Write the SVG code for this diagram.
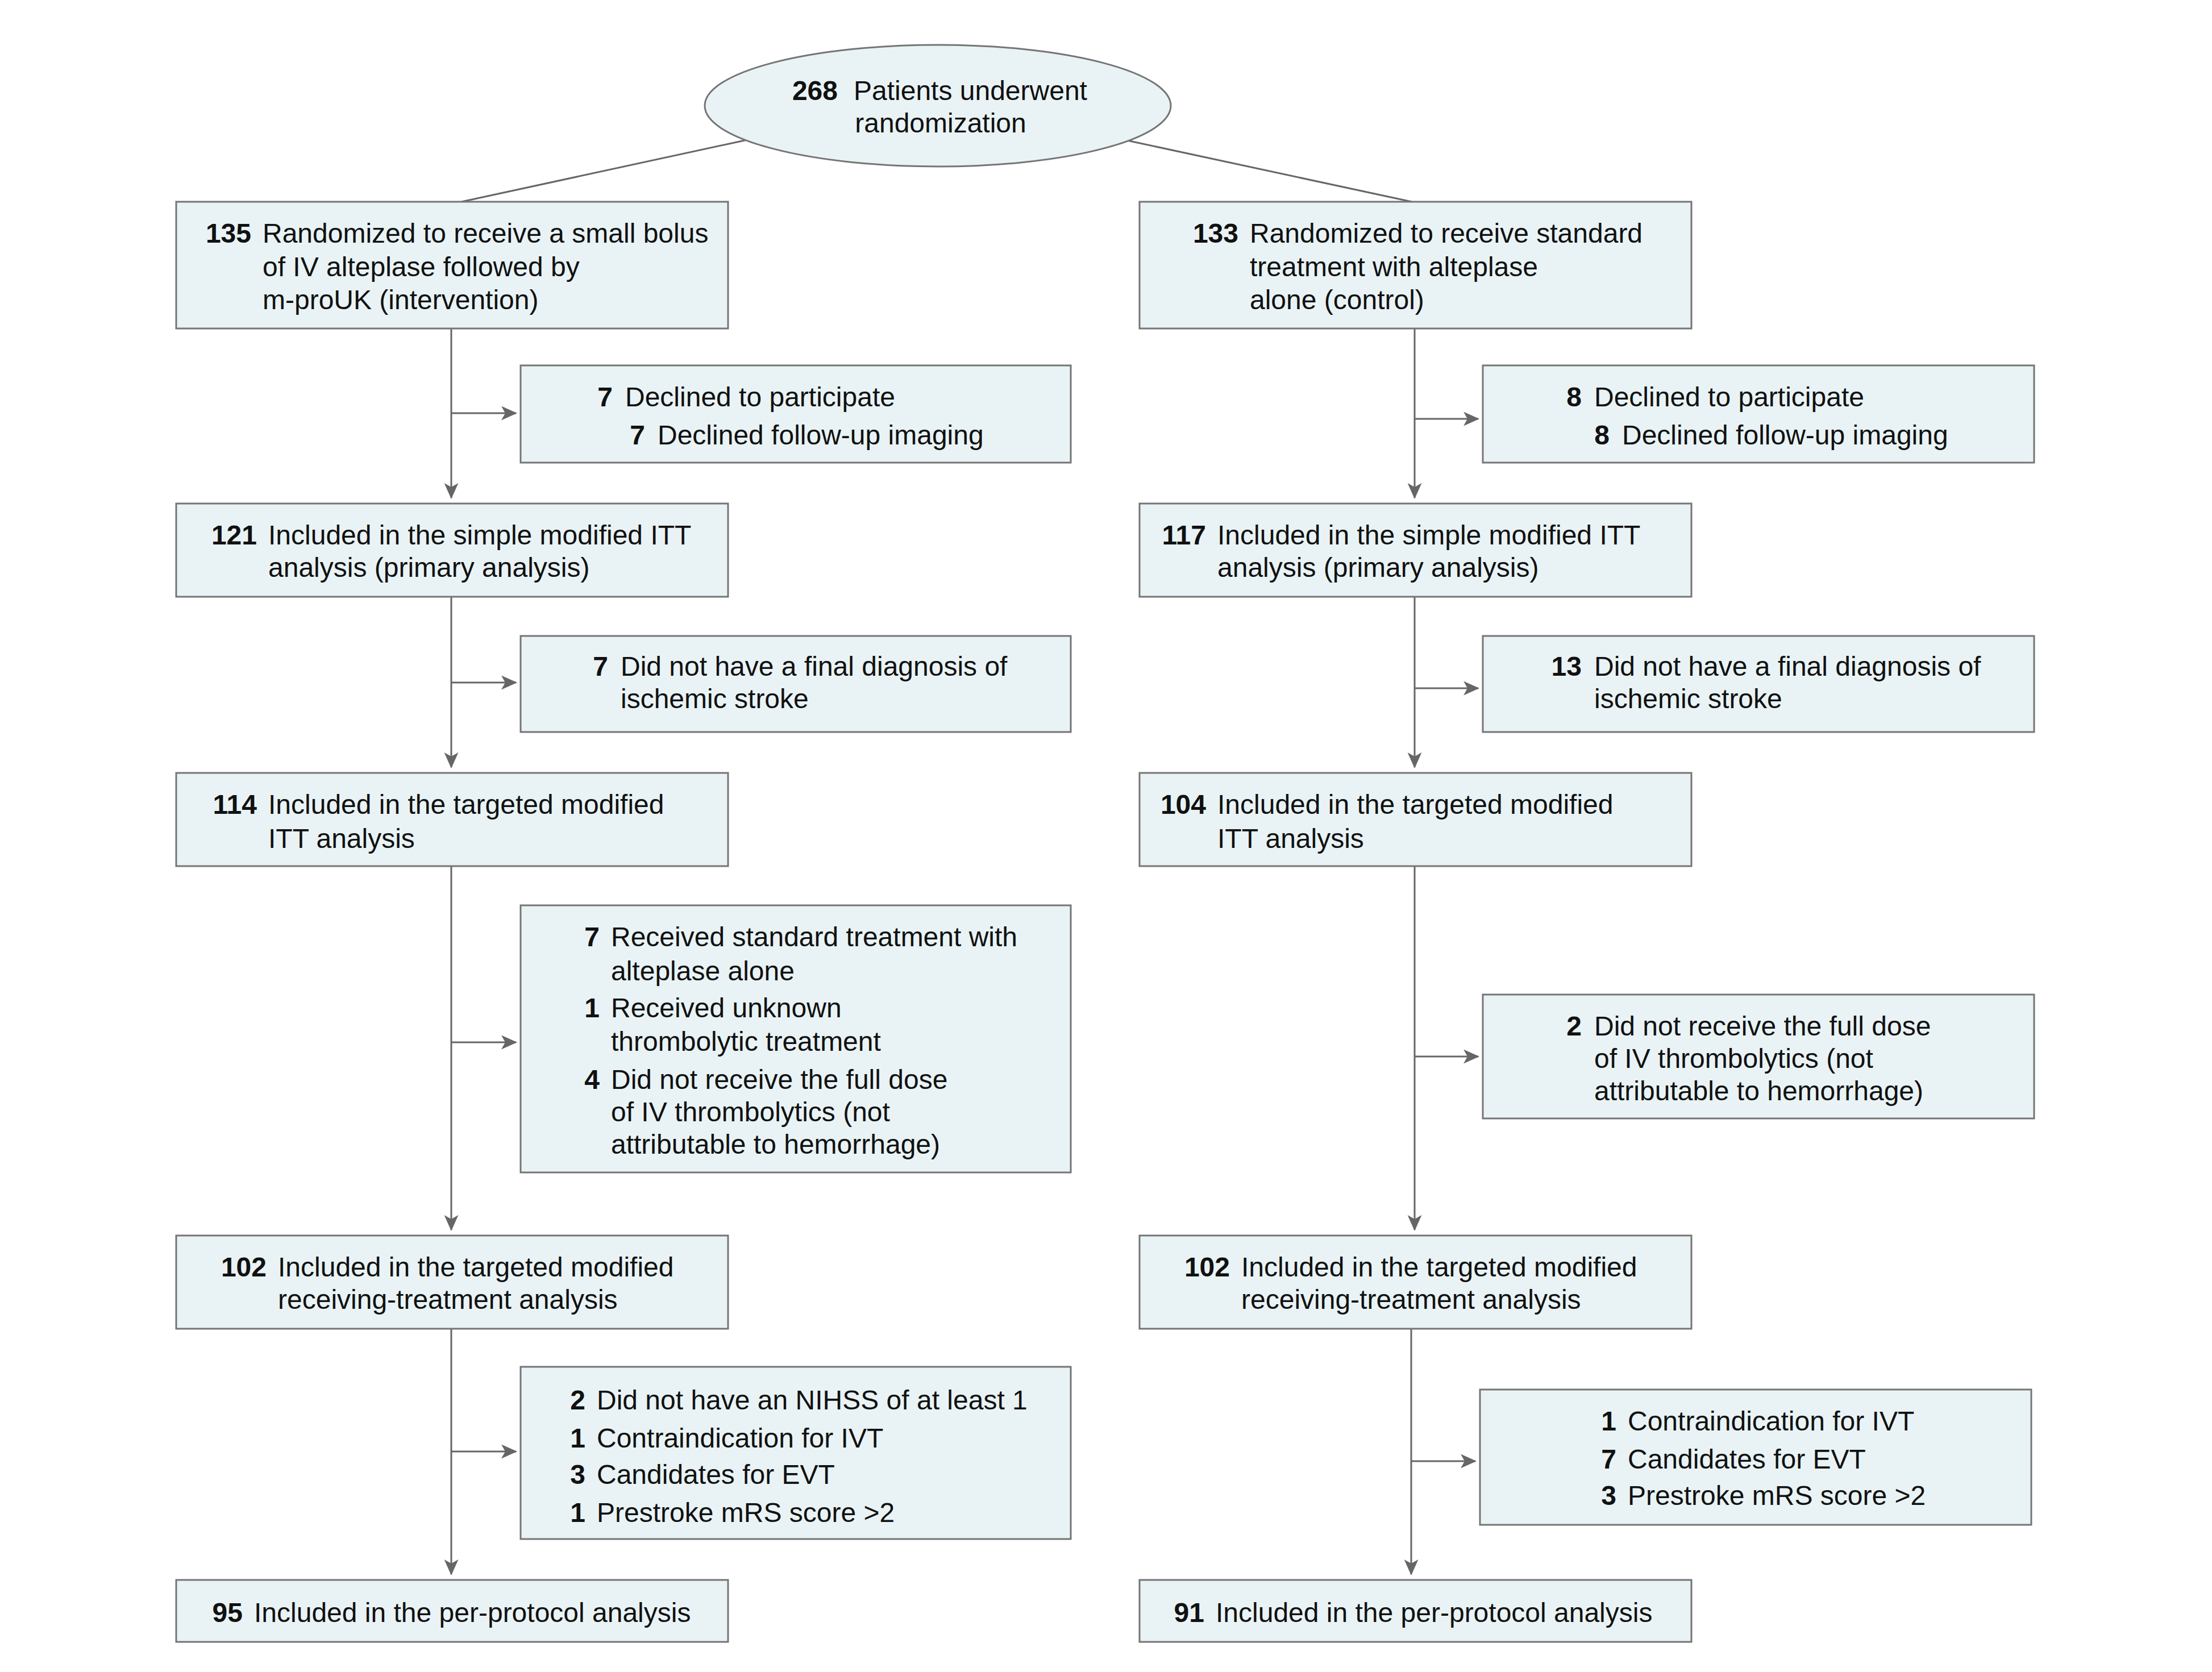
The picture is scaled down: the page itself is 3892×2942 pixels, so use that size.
<svg xmlns="http://www.w3.org/2000/svg" width="3892" height="2942" viewBox="0 0 3892 2942">
<style>
.box{fill:#e9f3f5;stroke:#757575;stroke-width:3}
.t{font-family:"Liberation Sans",Arial,sans-serif;font-size:48px;fill:#111}
.n{font-family:"Liberation Sans",Arial,sans-serif;font-size:48px;font-weight:bold;fill:#111;text-anchor:end}
.c{stroke:#666;stroke-width:3;fill:none}
.a{stroke:#666;stroke-width:3;fill:none;marker-end:url(#ah)}
</style>
<defs>
<marker id="ah" markerWidth="28" markerHeight="25" refX="26" refY="12.5" orient="auto" markerUnits="userSpaceOnUse" viewBox="0 0 28 25">
<path d="M0,0 L28,12.5 L0,25 L7,12.5 z" fill="#666"/>
</marker>
</defs>
<rect width="3892" height="2942" fill="#fff"/>
<g id="connectors">
<line class="c" x1="1315" y1="246" x2="812" y2="355"/>
<line class="c" x1="1978" y1="246" x2="2484" y2="355"/>
<line class="a" x1="794" y1="578" x2="794" y2="876"/>
<line class="a" x1="794" y1="1050" x2="794" y2="1350"/>
<line class="a" x1="794" y1="1524" x2="794" y2="2164"/>
<line class="a" x1="794" y1="2338" x2="794" y2="2770"/>
<line class="a" x1="794" y1="727" x2="908" y2="727"/>
<line class="a" x1="794" y1="1201" x2="908" y2="1201"/>
<line class="a" x1="794" y1="1834" x2="908" y2="1834"/>
<line class="a" x1="794" y1="2554" x2="908" y2="2554"/>
<line class="a" x1="2489" y1="578" x2="2489" y2="876"/>
<line class="a" x1="2489" y1="1050" x2="2489" y2="1350"/>
<line class="a" x1="2489" y1="1524" x2="2489" y2="2164"/>
<line class="a" x1="2483" y1="2338" x2="2483" y2="2770"/>
<line class="a" x1="2489" y1="737" x2="2601" y2="737"/>
<line class="a" x1="2489" y1="1211" x2="2601" y2="1211"/>
<line class="a" x1="2489" y1="1859" x2="2601" y2="1859"/>
<line class="a" x1="2483" y1="2571" x2="2596" y2="2571"/>
</g>
<g id="n268">
<ellipse cx="1650" cy="186" rx="410" ry="107" class="box"/>
<text class="n" x="1474" y="176">268</text>
<text class="t" x="1502" y="176">Patients underwent</text>
<text class="t" x="1655" y="233" text-anchor="middle">randomization</text>
</g>
<g id="n135">
<rect class="box" x="310" y="355" width="971" height="223"/>
<text class="n" x="442" y="427">135</text>
<text class="t" x="462" y="427">Randomized to receive a small bolus</text>
<text class="t" x="462" y="486">of IV alteplase followed by</text>
<text class="t" x="462" y="544">m-proUK (intervention)</text>
</g>
<g id="n133">
<rect class="box" x="2005" y="355" width="971" height="223"/>
<text class="n" x="2179" y="427">133</text>
<text class="t" x="2199" y="427">Randomized to receive standard</text>
<text class="t" x="2199" y="486">treatment with alteplase</text>
<text class="t" x="2199" y="544">alone (control)</text>
</g>
<g id="s7a">
<rect class="box" x="916" y="643" width="968" height="171"/>
<text class="n" x="1078" y="715">7</text>
<text class="t" x="1100" y="715">Declined to participate</text>
<text class="n" x="1135" y="782">7</text>
<text class="t" x="1157" y="782">Declined follow-up imaging</text>
</g>
<g id="s8">
<rect class="box" x="2609" y="643" width="970" height="171"/>
<text class="n" x="2783" y="715">8</text>
<text class="t" x="2805" y="715">Declined to participate</text>
<text class="n" x="2832" y="782">8</text>
<text class="t" x="2854" y="782">Declined follow-up imaging</text>
</g>
<g id="n121">
<rect class="box" x="310" y="886" width="971" height="164"/>
<text class="n" x="452" y="958">121</text>
<text class="t" x="472" y="958">Included in the simple modified ITT</text>
<text class="t" x="472" y="1015">analysis (primary analysis)</text>
</g>
<g id="n117">
<rect class="box" x="2005" y="886" width="971" height="164"/>
<text class="n" x="2122" y="958">117</text>
<text class="t" x="2142" y="958">Included in the simple modified ITT</text>
<text class="t" x="2142" y="1015">analysis (primary analysis)</text>
</g>
<g id="s7b">
<rect class="box" x="916" y="1119" width="968" height="169"/>
<text class="n" x="1070" y="1189">7</text>
<text class="t" x="1092" y="1189">Did not have a final diagnosis of</text>
<text class="t" x="1092" y="1246">ischemic stroke</text>
</g>
<g id="s13">
<rect class="box" x="2609" y="1119" width="970" height="169"/>
<text class="n" x="2783" y="1189">13</text>
<text class="t" x="2805" y="1189">Did not have a final diagnosis of</text>
<text class="t" x="2805" y="1246">ischemic stroke</text>
</g>
<g id="n114">
<rect class="box" x="310" y="1360" width="971" height="164"/>
<text class="n" x="452" y="1432">114</text>
<text class="t" x="472" y="1432">Included in the targeted modified</text>
<text class="t" x="472" y="1492">ITT analysis</text>
</g>
<g id="n104">
<rect class="box" x="2005" y="1360" width="971" height="164"/>
<text class="n" x="2122" y="1432">104</text>
<text class="t" x="2142" y="1432">Included in the targeted modified</text>
<text class="t" x="2142" y="1492">ITT analysis</text>
</g>
<g id="s3L">
<rect class="box" x="916" y="1593" width="968" height="470"/>
<text class="n" x="1055" y="1665">7</text>
<text class="t" x="1075" y="1665">Received standard treatment with</text>
<text class="t" x="1075" y="1725">alteplase alone</text>
<text class="n" x="1055" y="1790">1</text>
<text class="t" x="1075" y="1790">Received unknown</text>
<text class="t" x="1075" y="1849">thrombolytic treatment</text>
<text class="n" x="1055" y="1916">4</text>
<text class="t" x="1075" y="1916">Did not receive the full dose</text>
<text class="t" x="1075" y="1973">of IV thrombolytics (not</text>
<text class="t" x="1075" y="2030">attributable to hemorrhage)</text>
</g>
<g id="s2R">
<rect class="box" x="2609" y="1750" width="970" height="218"/>
<text class="n" x="2783" y="1822">2</text>
<text class="t" x="2805" y="1822">Did not receive the full dose</text>
<text class="t" x="2805" y="1879">of IV thrombolytics (not</text>
<text class="t" x="2805" y="1936">attributable to hemorrhage)</text>
</g>
<g id="n102L">
<rect class="box" x="310" y="2174" width="971" height="164"/>
<text class="n" x="469" y="2246">102</text>
<text class="t" x="489" y="2246">Included in the targeted modified</text>
<text class="t" x="489" y="2303">receiving-treatment analysis</text>
</g>
<g id="n102R">
<rect class="box" x="2005" y="2174" width="971" height="164"/>
<text class="n" x="2164" y="2246">102</text>
<text class="t" x="2184" y="2246">Included in the targeted modified</text>
<text class="t" x="2184" y="2303">receiving-treatment analysis</text>
</g>
<g id="s4L">
<rect class="box" x="916" y="2405" width="968" height="303"/>
<text class="n" x="1030" y="2480">2</text>
<text class="t" x="1050" y="2480">Did not have an NIHSS of at least 1</text>
<text class="n" x="1030" y="2547">1</text>
<text class="t" x="1050" y="2547">Contraindication for IVT</text>
<text class="n" x="1030" y="2611">3</text>
<text class="t" x="1050" y="2611">Candidates for EVT</text>
<text class="n" x="1030" y="2678">1</text>
<text class="t" x="1050" y="2678">Prestroke mRS score &gt;2</text>
</g>
<g id="s4R">
<rect class="box" x="2604" y="2445" width="970" height="238"/>
<text class="n" x="2844" y="2517">1</text>
<text class="t" x="2864" y="2517">Contraindication for IVT</text>
<text class="n" x="2844" y="2584">7</text>
<text class="t" x="2864" y="2584">Candidates for EVT</text>
<text class="n" x="2844" y="2648">3</text>
<text class="t" x="2864" y="2648">Prestroke mRS score &gt;2</text>
</g>
<g id="n95">
<rect class="box" x="310" y="2780" width="971" height="109"/>
<text class="n" x="427" y="2854">95</text>
<text class="t" x="447" y="2854">Included in the per-protocol analysis</text>
</g>
<g id="n91">
<rect class="box" x="2005" y="2780" width="971" height="109"/>
<text class="n" x="2119" y="2854">91</text>
<text class="t" x="2139" y="2854">Included in the per-protocol analysis</text>
</g>
</svg>
